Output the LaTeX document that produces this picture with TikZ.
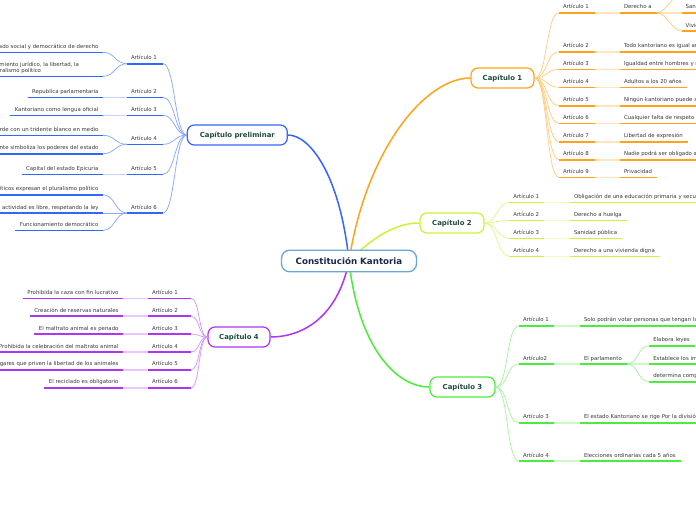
\documentclass[tikz,border=0pt]{standalone}
\usepackage{fontspec}
\setmainfont{DejaVu Sans}
\usetikzlibrary{calc}
\pgfdeclarelayer{bg}
\pgfsetlayers{bg,main}
\definecolor{cBl}{HTML}{3366FF}
\definecolor{cBlL}{HTML}{8FA8FF}
\definecolor{cOr}{HTML}{FFA31A}
\definecolor{cOrL}{HTML}{FFCF80}
\definecolor{cYg}{HTML}{CCF23A}
\definecolor{cYgL}{HTML}{E2F98A}
\definecolor{cGr}{HTML}{4DEB3D}
\definecolor{cGrL}{HTML}{A8F5A0}
\definecolor{cPu}{HTML}{B034F5}
\definecolor{cPuL}{HTML}{D49AFA}
\definecolor{txt}{HTML}{3A3A3A}
\definecolor{chtxt}{HTML}{1D4B3C}
\definecolor{ctrtxt}{HTML}{1B2A4A}
\definecolor{ctrbd}{HTML}{6AA6DA}
\tikzset{
 lt/.style={inner sep=0pt, outer sep=0pt, text=txt, font=\fontsize{5.4}{6.3}\selectfont},
 ulL/.style={line width=1.6pt, draw=#1},
 cvL/.style={line width=0.75pt, draw=#1},
 segL/.style={line width=1.6pt, draw=#1, draw opacity=0.28},
 trunk/.style={line width=1.5pt, draw=#1},
 chap/.style={draw=#1, line width=1.2pt, rounded corners=7pt, fill=white, minimum height=20pt, inner sep=0pt, text=chtxt, font=\fontsize{6.9}{8}\selectfont\bfseries},
 ctr/.style={draw=ctrbd, line width=1.3pt, rounded corners=8pt, fill=white, minimum width=135pt, minimum height=21.5pt, inner sep=0pt, text=ctrtxt, font=\fontsize{8.7}{10}\selectfont\bfseries},
}
% article: name, x1, x2, y, colour, text
\newcommand\artic[6]{%
  \coordinate (#1-l) at (#2,#4);
  \coordinate (#1-r) at (#3,#4);
  \draw[ulL=#5] (#1-l) -- (#1-r);
  \node[lt, anchor=base west] (#1) at (#2+4,#4-4) {#6};}
% leaf with text on the left of its line: name, x1, y, colour, text
\newcommand\leafR[5]{%
  \node[lt, anchor=base west] (#1) at (#2+4,#3-4) {#5};
  \coordinate (#1-l) at (#2,#3);
  \coordinate (#1-r) at ($(#1.base east |- #1-l)+(5,0)$);
  \draw[ulL=#4] (#1-l) -- (#1-r);}
% leaf with text set flush right: name, x2, y, colour, text
\newcommand\leafL[5]{%
  \node[lt, anchor=base east] (#1) at (#2-4.5,#3-4) {#5};
  \coordinate (#1-r) at (#2,#3);
  \coordinate (#1-l) at ($(#1.base west |- #1-r)+(-4.5,0)$);
  \draw[ulL=#4] (#1-l) -- (#1-r);}
\begin{document}
\begin{tikzpicture}[x=1pt,y=-1pt]
\useasboundingbox (0,0) rectangle (696,520);
\begin{pgfonlayer}{bg}
\fill[white] (0,0) rectangle (696,520);
\end{pgfonlayer}
\clip (0,0) rectangle (696,520);

% ---------- central and chapters
\node[ctr] (ctr) at (349,261) {Constitución Kantoria};
\node[chap=cBl, minimum width=100pt] (cp) at (237.3,135) {Capítulo preliminar};
\node[chap=cOr, minimum width=63pt] (c1) at (502.5,78) {Capítulo 1};
\node[chap=cYg, minimum width=64pt] (c2) at (452,223) {Capítulo 2};
\node[chap=cGr, minimum width=65pt] (c3) at (462.5,387) {Capítulo 3};
\node[chap=cPu, minimum width=62pt] (c4) at (239,337) {Capítulo 4};

\begin{pgfonlayer}{bg}
\draw[trunk=cBl] (ctr.center) .. controls (340,175) and (310,135) .. (cp.east);
\draw[trunk=cOr] (ctr.center) .. controls (366,150) and (425,78) .. (c1.west);
\draw[trunk=cYg] (ctr.center) .. controls (372,238) and (395,223) .. (c2.west);
\draw[trunk=cGr] (ctr.center) .. controls (358,345) and (395,387) .. (c3.west);
\draw[trunk=cPu] (ctr.center) .. controls (337,320) and (300,337) .. (c4.east);
\end{pgfonlayer}

% ---------- Capitulo preliminar
\artic{pa1}{127}{163}{63.7}{cBl}{Artículo 1}
\artic{pa2}{127}{163}{97.3}{cBl}{Artículo 2}
\artic{pa3}{127}{163}{115.3}{cBl}{Artículo 3}
\artic{pa4}{127}{163}{144.3}{cBl}{Artículo 4}
\artic{pa5}{127}{163}{174.3}{cBl}{Artículo 5}
\artic{pa6}{127}{163}{213}{cBl}{Artículo 6}
\leafL{pl1}{103}{52.3}{cBl}{Kantoria se constituye en un Estado social y democrático de derecho}
\node[lt, anchor=south east, align=left] (pl2) at (79,73.6) {Valores superiores del ordenamiento jurídico, la libertad, la\\la justicia, la igualdad y el pluralismo político};
\coordinate (pl2-r) at (103,76.3);
\coordinate (pl2-l) at ($(pl2.west |- pl2-r)+(-4.5,0)$);
\draw[ulL=cBl] (pl2-l) -- (pl2-r);
\leafL{pl3}{103}{97.3}{cBl}{Republica parlamentaria}
\leafL{pl4}{103}{115.3}{cBl}{Kantoriano como lengua oficial}
\leafL{pl5}{103}{135.3}{cBl}{La bandera es verde con un tridente blanco en medio}
\leafL{pl6}{103}{153.7}{cBl}{El tridente simboliza los poderes del estado}
\leafL{pl7}{103}{174.3}{cBl}{Capital del estado Epicuria}
\leafL{pl8}{103}{194.7}{cBl}{Los partidos políticos expresan el pluralismo político}
\leafL{pl9}{103}{213}{cBl}{Su creación y el ejercicio de su actividad es libre, respetando la ley}
\leafL{pl10}{103}{230.3}{cBl}{Funcionamiento democrático}
\foreach \a in {pa1,pa2,pa3,pa4,pa5,pa6}
  \draw[cvL=cBlL] (cp.west) .. controls +(-12,0) and +(12,0) .. (\a-r);
\foreach \a/\b in {pa1/pl1,pa1/pl2,pa4/pl5,pa4/pl6,pa6/pl8,pa6/pl9,pa6/pl10}
  \draw[cvL=cBlL] (\a-l) .. controls +(-12,0) and +(12,0) .. (\b-r);
\foreach \a/\b in {pa2/pl3,pa3/pl4,pa5/pl7}
  \draw[segL=cBl] (\a-l) -- (\b-r);

% ---------- Capitulo 4
\artic{qa1}{148}{191}{298.3}{cPu}{Artículo 1}
\artic{qa2}{148}{191}{316.2}{cPu}{Artículo 2}
\artic{qa3}{148}{191}{334.1}{cPu}{Artículo 3}
\artic{qa4}{148}{191}{352}{cPu}{Artículo 4}
\artic{qa5}{148}{191}{369.9}{cPu}{Artículo 5}
\artic{qa6}{148}{191}{387.8}{cPu}{Artículo 6}
\leafL{ql1}{123}{298.3}{cPu}{Prohibida la caza con fin lucrativo}
\leafL{ql2}{123}{316.2}{cPu}{Creación de reservas naturales}
\leafL{ql3}{123}{334.1}{cPu}{El maltrato animal es penado}
\leafL{ql4}{123}{352}{cPu}{Prohibida la celebración del maltrato animal}
\leafL{ql5}{123}{369.9}{cPu}{Prohibidos los lugares que priven la libertad de los animales}
\leafL{ql6}{123}{387.8}{cPu}{El reciclado es obligatorio}
\foreach \i in {1,...,6}{
  \draw[cvL=cPuL] (c4.west) .. controls +(-9,0) and +(9,0) .. (qa\i-r);
  \draw[segL=cPu] (qa\i-l) -- (ql\i-r);}

% ---------- Capitulo 1
\artic{ca1}{559}{595}{12.7}{cOr}{Artículo 1}
\artic{ca2}{559}{595}{51.7}{cOr}{Artículo 2}
\artic{ca3}{559}{595}{69.3}{cOr}{Artículo 3}
\artic{ca4}{559}{595}{87.3}{cOr}{Artículo 4}
\artic{ca5}{559}{595}{105.7}{cOr}{Artículo 5}
\artic{ca6}{559}{595}{123.3}{cOr}{Artículo 6}
\artic{ca7}{559}{595}{141.7}{cOr}{Artículo 7}
\artic{ca8}{559}{595}{159.7}{cOr}{Artículo 8}
\artic{ca9}{559}{595}{177.3}{cOr}{Artículo 9}
\leafR{cl1}{620}{12.7}{cOr}{Derecho a\hspace{6pt}}
\leafR{cl2}{620}{51.7}{cOr}{Todo kantoriano es igual ante la ley}
\leafR{cl3}{620}{69.3}{cOr}{Igualdad entre hombres y mujeres}
\leafR{cl4}{620}{87.3}{cOr}{Adultos a los 20 años}
\leafR{cl5}{620}{105.7}{cOr}{Ningún kantoriano puede ser discriminado}
\leafR{cl6}{620}{123.3}{cOr}{Cualquier falta de respeto será castigada}
\leafR{cl7}{620}{141.7}{cOr}{Libertad de expresión}
\leafR{cl8}{620}{159.7}{cOr}{Nadie podrá ser obligado a declarar}
\leafR{cl9}{620}{177.3}{cOr}{Privacidad}
\foreach \i in {1,...,9}{
  \draw[cvL=cOrL] (c1.east) .. controls +(13,0) and +(-13,0) .. (ca\i-l);
  \draw[segL=cOr] (ca\i-r) -- (cl\i-l);}
\coordinate (cs0-l) at (681.7,-5.3);
\coordinate (cs0-r) at (700,-5.3);
\draw[ulL=cOr] (cs0-l) -- (cs0-r);
\leafR{cs1}{681.7}{12.7}{cOr}{Sanidad}
\leafR{cs2}{681.7}{31}{cOr}{Vivienda}
\draw[cvL=cOrL] (cl1-r) .. controls +(10,0) and +(-10,0) .. (cs0-l);
\draw[cvL=cOrL] (cl1-r) .. controls +(10,0) and +(-10,0) .. (cs2-l);
\draw[segL=cOr] (cl1-r) -- (cs1-l);

% ---------- Capitulo 2
\artic{da1}{509.3}{544}{202.3}{cYg}{Artículo 1}
\artic{da2}{509.3}{544}{220.3}{cYg}{Artículo 2}
\artic{da3}{509.3}{544}{238.3}{cYg}{Artículo 3}
\artic{da4}{509.3}{544}{256.3}{cYg}{Artículo 4}
\leafR{dl1}{570}{202.3}{cYg}{Obligación de una educación primaria y secundaria}
\leafR{dl2}{570}{220.3}{cYg}{Derecho a huelga}
\leafR{dl3}{570}{238.3}{cYg}{Sanidad pública}
\leafR{dl4}{570}{256.3}{cYg}{Derecho a una vivienda digna}
\foreach \i in {1,...,4}{
  \draw[cvL=cYgL] (c2.east) .. controls +(12,0) and +(-12,0) .. (da\i-l);
  \draw[segL=cYg] (da\i-r) -- (dl\i-l);}

% ---------- Capitulo 3
\artic{ea1}{519}{554}{325.7}{cGr}{Artículo 1}
\artic{ea2}{519}{554}{364}{cGr}{Artículo2}
\artic{ea3}{519}{554}{422.7}{cGr}{Artículo 3}
\artic{ea4}{519}{554}{461}{cGr}{Artículo 4}
\leafR{el1}{580}{325.7}{cGr}{Solo podrán votar personas que tengan la mayoría de edad}
\leafR{el2}{580}{364}{cGr}{El parlamento}
\leafR{el3}{580}{422.7}{cGr}{El estado Kantoriano se rige Por la división de poderes}
\leafR{el4}{580}{461}{cGr}{Elecciones ordinarias cada 5 años}
\foreach \i in {1,...,4}{
  \draw[cvL=cGrL] (c3.east) .. controls +(13,0) and +(-13,0) .. (ea\i-l);
  \draw[segL=cGr] (ea\i-r) -- (el\i-l);}
\leafR{es1}{649.3}{345.7}{cGr}{Elabora leyes}
\leafR{es2}{649.3}{364}{cGr}{Establece los impuestos}
\leafR{es3}{649.3}{381.7}{cGr}{determina competencias}
\draw[cvL=cGrL] (el2-r) .. controls +(12,0) and +(-12,0) .. (es1-l);
\draw[segL=cGr] (el2-r) -- (es2-l);
\draw[cvL=cGrL] (el2-r) .. controls +(12,0) and +(-12,0) .. (es3-l);
\end{tikzpicture}
\end{document}
